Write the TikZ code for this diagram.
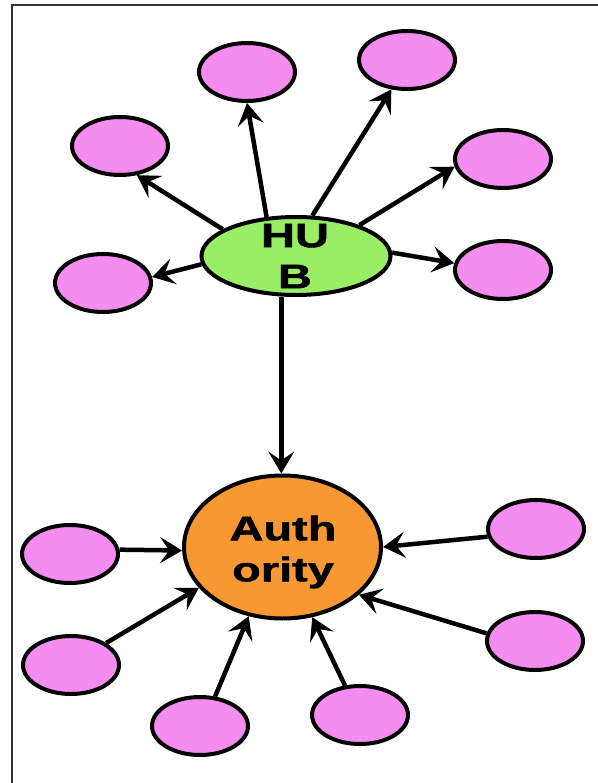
\documentclass[tikz,border=0pt]{standalone}
\usepackage{fontspec}
\setmainfont{Liberation Sans}[BoldFeatures={FakeBold=1.2}]
\usetikzlibrary{shapes.geometric,arrows.meta}
\definecolor{leafpink}{RGB}{245,140,240}
\definecolor{hubgreen}{RGB}{153,238,102}
\definecolor{authorange}{RGB}{247,152,50}
\tikzset{
  leaf/.style={ellipse, draw=black, line width=4pt, fill=leafpink,
    minimum width=96pt, minimum height=58pt, inner sep=0pt},
  hubshape/.style={ellipse, draw=black, line width=4pt, fill=hubgreen,
    minimum width=189pt, minimum height=78pt, inner sep=0pt},
  authshape/.style={ellipse, draw=black, line width=4pt, fill=authorange,
    minimum width=197pt, minimum height=143pt, inner sep=0pt},
  bigtext/.style={align=center, inner sep=0pt,
    font=\fontsize{34}{41}\selectfont\bfseries},
  link/.style={line width=4.5pt, -{Stealth[length=22pt, width=26pt, inset=9pt]}}
}
\newcommand{\wide}[1]{\scalebox{1.38}[1]{#1}}
\begin{document}
\begin{tikzpicture}[x=1pt, y=-1pt]
  \useasboundingbox (0,0) rectangle (597,783);
  % frame
  \draw[line width=2pt, black!80] (12,790) -- (12,5) -- (600,5);

  % hub and its leaves
  \node[hubshape] (hub) at (296,256) {};
  \node[bigtext] (hubtxt) at (295,256) {\wide{HU}\\\wide{B}};
  \node[leaf] (h1) at (120,146) {};
  \node[leaf] (h2) at (247,72) {};
  \node[leaf] (h3) at (407,60) {};
  \node[leaf] (h4) at (503,159) {};
  \node[leaf] (h5) at (503,270) {};
  \node[leaf] (h6) at (103,283) {};

  % authority and its sources
  \node[authshape] (auth) at (282.5,547) {};
  \node[bigtext] (authtxt) at (283,552) {\wide{Auth}\\\wide{ority}};
  \node[leaf] (a1) at (70,554) {};
  \node[leaf] (a2) at (536,529) {};
  \node[leaf] (a3) at (71,665) {};
  \node[leaf] (a4) at (200,726) {};
  \node[leaf] (a5) at (360,715) {};
  \node[leaf] (a6) at (535,641) {};

  % hub out-links
  \draw[link] (hub.160) -- (h1.-60);
  \draw[link] (hub.127) -- (h2.south);
  \draw[link] (hub.68) -- (h3.-118);
  \draw[link] (hub.26) -- (h4.189);
  \draw[link] (hub.2) -- (h5.172);
  \draw[link] (hub.185) -- (h6.7);
  \draw[link] (hub.250) -- (hub.250 |- auth.north);

  % authority in-links
  \draw[link] (a1.5) -- (auth.182);
  \draw[link] (a2.189) -- (auth.0);
  \draw[link] (a3.32) -- (auth.206);
  \draw[link] (a4.63) -- (auth.244);
  \draw[link] (a5.117) -- (auth.293);
  \draw[link] (a6.171) -- (auth.-32);
\end{tikzpicture}
\end{document}
